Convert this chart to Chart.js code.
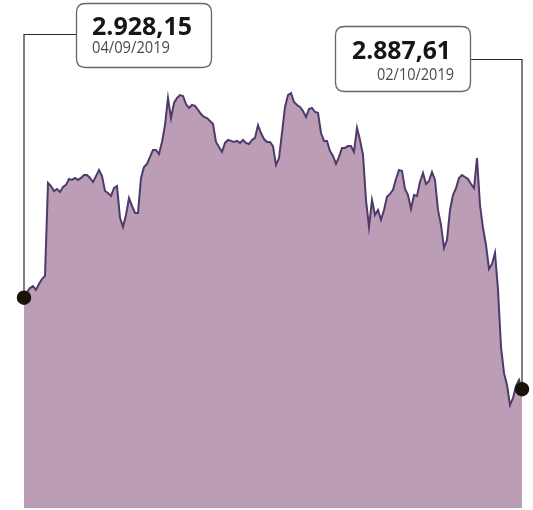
<!DOCTYPE html>
<html>
<head>
<meta charset="utf-8">
<script src="https://cdn.jsdelivr.net/npm/chart.js@4/dist/chart.umd.min.js"></script>
<style>
  body { margin: 0; background: #fff; }
  #wrap { width: 533px; height: 510px; }
</style>
</head>
<body>
<div id="wrap"><canvas id="myChart" width="533" height="510"></canvas></div>
<script>
// index values, one sample every few pixels
const values = [
  2928.15, 2930.7, 2932.4, 2933.3, 2931.6, 2934.2, 2936.4, 2937.8, 2979.0, 2977.6,
  2975.4, 2976.3, 2975.0, 2977.2, 2978.1, 2980.7, 2980.3, 2981.2, 2980.3, 2981.2,
  2982.5, 2982.5, 2981.2, 2979.4, 2982.0, 2984.7, 2982.0, 2975.4, 2974.5, 2973.2,
  2976.7, 2977.6, 2963.5, 2959.5, 2964.8, 2972.3, 2968.8, 2965.7, 2965.7, 2981.2,
  2986.0, 2987.4, 2990.5, 2993.6, 2993.6, 2991.8, 2997.1, 3004.6, 3016.6, 3007.7,
  3014.4, 3016.6, 3017.9, 3017.5, 3013.9, 3012.2, 3013.5, 3013.1, 3011.3, 3009.5,
  3008.2, 3007.7, 3006.4, 3005.1, 2997.1, 2994.9, 2992.7, 2996.7, 2998.0, 2997.6,
  2997.1, 2997.6, 2996.7, 2998.0, 2996.7, 2996.2, 2998.0, 2998.9, 3004.6, 3001.1,
  2998.4, 2997.1, 2997.1, 2995.3, 2986.9, 2990.0, 3001.1, 3012.6, 3017.9, 3018.8,
  3014.8, 3013.5, 3012.6, 3010.8, 3008.2, 3011.7, 3012.2, 3010.4, 3010.0, 3001.1,
  2997.6, 2997.6, 2993.1, 2990.9, 2987.4, 2990.5, 2994.5, 2994.5, 2995.3, 2995.3,
  2992.7, 3003.3, 2998.0, 2991.4, 2971.4, 2959.5, 2971.4, 2964.8, 2967.0, 2962.6,
  2967.0, 2972.8, 2974.1, 2975.9, 2980.7, 2984.7, 2984.3, 2976.3, 2973.6, 2967.4,
  2973.6, 2973.2, 2979.4, 2983.4, 2978.5, 2979.8, 2983.8, 2980.3, 2967.0, 2960.4,
  2950.2, 2953.7, 2967.0, 2973.6, 2976.7, 2981.2, 2982.5, 2981.6, 2980.7, 2978.5,
  2976.7, 2990.0, 2969.2, 2959.0, 2951.5, 2940.9, 2943.1, 2948.0, 2931.6, 2906.3,
  2894.8, 2889.5, 2880.6, 2883.7, 2889.0, 2891.7, 2887.61
];
const labels = values.map((v, i) => i);

const startText = "2.928,15";
const startDate = "04/09/2019";
const endText = "2.887,61";
const endDate = "02/10/2019";

function roundBox(ctx, x, y, w, h, r) {
    ctx.beginPath();
    ctx.moveTo(x + r, y);
    ctx.lineTo(x + w - r, y);
    ctx.quadraticCurveTo(x + w, y, x + w, y + r);
    ctx.lineTo(x + w, y + h - r);
    ctx.quadraticCurveTo(x + w, y + h, x + w - r, y + h);
    ctx.lineTo(x + r, y + h);
    ctx.quadraticCurveTo(x, y + h, x, y + h - r);
    ctx.lineTo(x, y + r);
    ctx.quadraticCurveTo(x, y, x + r, y);
    ctx.closePath();
}

// callouts with leader lines and end dots
const callouts = {
    id: 'callouts',
    afterDatasetsDraw(chart) {
        const ctx = chart.ctx;
        const pts = chart.getDatasetMeta(0).data;
        const first = pts[0];
        const last = pts[pts.length - 1];
        ctx.save();

        // leader lines
        ctx.strokeStyle = '#2a2a2a';
        ctx.lineWidth = 1.2;
        ctx.beginPath();
        ctx.moveTo(first.x, first.y);
        ctx.lineTo(first.x, 34.5);
        ctx.lineTo(77, 34.5);
        ctx.moveTo(last.x, last.y);
        ctx.lineTo(last.x, 59.5);
        ctx.lineTo(471, 59.5);
        ctx.stroke();

        // boxes
        ctx.fillStyle = '#fff';
        ctx.strokeStyle = '#666';
        ctx.lineWidth = 1.3;
        roundBox(ctx, 76.5, 3.5, 135, 64, 9);
        ctx.fill(); ctx.stroke();
        roundBox(ctx, 335.5, 26.5, 135, 65, 9);
        ctx.fill(); ctx.stroke();

        // texts
        ctx.textBaseline = 'alphabetic';
        ctx.fillStyle = '#161616';
        ctx.font = 'bold 25px "Open Sans"';
        ctx.textAlign = 'left';
        ctx.fillText(startText, 92, 35, 101);
        ctx.fillText(endText, 352, 59, 99);
        ctx.fillStyle = '#4a4a4a';
        ctx.font = '17px "Open Sans"';
        ctx.fillText(startDate, 92, 53, 78);
        ctx.textAlign = 'right';
        ctx.fillText(endDate, 454, 80, 77);

        // end dots
        ctx.fillStyle = '#1b120c';
        [first, last].forEach(p => {
            ctx.beginPath();
            ctx.arc(p.x, p.y, 7.2, 0, Math.PI * 2);
            ctx.fill();
        });
        ctx.restore();
    }
};

const config = {
    type: 'line',
    data: {
        labels: labels,
        datasets: [{
            data: values,
            borderColor: '#4f3a6c',
            borderWidth: 2,
            backgroundColor: '#bc9db6',
            fill: 'start',
            pointRadius: 0,
            tension: 0
        }]
    },
    options: {
        responsive: false,
        animation: false,
        layout: {
            padding: { left: 24, right: 11, top: 0, bottom: 2 }
        },
        scales: {
            x: { display: false },
            y: { display: false, min: 2835, max: 3060 }
        },
        plugins: {
            legend: { display: false },
            tooltip: { enabled: false }
        }
    },
    plugins: [callouts]
};

var myChart = new Chart(document.getElementById('myChart'), config);
</script>
</body>
</html>
